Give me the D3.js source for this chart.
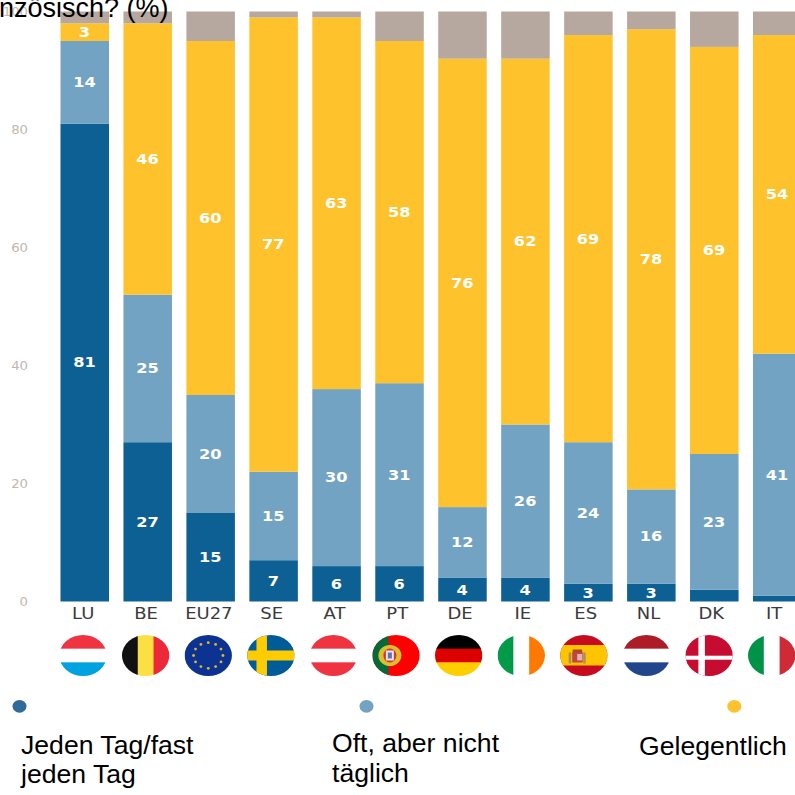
<!DOCTYPE html>
<html><head><meta charset="utf-8">
<script src="https://cdn.jsdelivr.net/npm/d3@7"></script>
<style>html,body{margin:0;padding:0;background:#fff;overflow:hidden}svg{display:block}</style>
</head><body><svg id="c" width="795" height="795"></svg>
<script>
const countries=["LU","BE","EU27","SE","AT","PT","DE","IE","ES","NL","DK","IT"];
const daily=[81,27,15,7,6,6,4,4,3,3,2,1];
const often=[14,25,20,15,30,31,12,26,24,16,23,41];
const sometimes=[3,46,60,77,63,58,76,62,69,78,69,54];
const never=[2,2,5,1,1,5,8,8,4,3,6,4];
const yTicks=[0,20,40,60,80,100];
const seriesNames=["daily","often","sometimes","never"];
const seriesColors=["#0d6093","#72a3c2","#fec22d","#b6a89f"];
const hiddenLabels=[2,1];
const titleText="nzösisch? (%)";
const legendLabels=[["Jeden Tag/fast","jeden Tag"],["Oft, aber nicht","täglich"],["Gelegentlich"]];
const flagStripes={
 LU:{d:"h",c:["#ef3340","#fff","#00a3e0"]},
 BE:{d:"v",c:["#111","#fae042","#ed2939"]},
 AT:{d:"h",c:["#ef3340","#fff","#ef3340"]},
 DE:{d:"h",c:["#000","#dd0000","#ffce00"]},
 IE:{d:"v",c:["#009a49","#fff","#ff7900"]},
 NL:{d:"h",c:["#ae1c28","#fff","#21468b"]},
 IT:{d:"v",c:["#009246","#fff","#ce2b37"]}
};
const svg=d3.select("#c");
const x=d3.scaleBand().domain(countries).range([54.2,807.8]).paddingInner(0.2295).paddingOuter(0.1);
const y=d3.scaleLinear().domain([0,100]).range([601.5,11.5]);
const stack=d3.stack().keys(seriesNames)(countries.map((c,i)=>({c,daily:daily[i],often:often[i],sometimes:sometimes[i],never:never[i]})));
const color=d3.scaleOrdinal(seriesNames,seriesColors);

const gy=svg.append("g").attr("transform","translate(28,0)").call(d3.axisLeft(y).tickValues(yTicks).tickSize(0));
gy.select(".domain").remove();
gy.selectAll("text").attr("fill","#c2b7b0").attr("font-family","DejaVu Sans").attr("font-size",11.5).attr("x",0).attr("dy","0.36em").attr("transform","scale(1.15,1)");

const gx=svg.append("g").attr("transform","translate(-1.5,0)").call(d3.axisBottom(x).tickSize(0));
gx.select(".domain").remove();
gx.selectAll(".tick").attr("transform",function(d,i){const t=+d3.select(this).attr("transform").match(/translate\(([^,]+)/)[1];return `translate(${t-0.15*i},618.7)`;});
gx.selectAll("text").attr("fill","#3a3a3a").attr("font-family","DejaVu Sans").attr("font-size",15).attr("y",0).attr("dy",0).attr("transform","scale(1.2,1)");

stack.forEach(s=>{
 const g=svg.append("g");
 g.selectAll("rect").data(s).join("rect")
  .attr("x",d=>x(d.data.c)).attr("width",x.bandwidth())
  .attr("y",d=>y(d[1])).attr("height",d=>y(d[0])-y(d[1])).attr("fill",color(s.key));
 if(s.key!=="never"){
  g.selectAll("text").data(s.filter(d=>!hiddenLabels.includes(d[1]-d[0]))).join("text")
   .attr("transform",d=>`translate(${x(d.data.c)+x.bandwidth()/2-0.3},${(y(d[0])+y(d[1]))/2}) scale(1.2,1)`)
   .attr("dy","0.36em")
   .attr("text-anchor","middle").attr("fill","#fff").attr("font-family","DejaVu Sans").attr("font-weight","bold").attr("font-size",13.5)
   .text(d=>d[1]-d[0]);
 }
});

const defs=svg.append("defs");
const rx=23.7, ry=20.5, fy=655.5;
countries.forEach((c,i)=>{
 const cx=x(c)+x.bandwidth()/2-1.7-0.35*i;
 defs.append("clipPath").attr("id","f"+i).append("ellipse").attr("cx",cx).attr("cy",fy).attr("rx",rx).attr("ry",ry);
 const g=svg.append("g").attr("clip-path",`url(#f${i})`);
 const X=cx-rx,Y=fy-ry,W=2*rx,H=2*ry;
 const R=(a,b,w,h,f)=>g.append("rect").attr("x",a).attr("y",b).attr("width",w).attr("height",h).attr("fill",f);
 const s=flagStripes[c];
 if(s){
  s.c.forEach((col,k)=>{ s.d==="h"?R(X,Y+k*H/3,W,H/3+.5,col):R(X+k*W/3,Y,W/3+.5,H,col); });
 } else if(c==="EU27"){
  R(X,Y,W,H,"#0c3391");
  d3.range(12).forEach(k=>{const a=k*Math.PI/6;
   g.append("circle").attr("cx",cx+14.7*Math.cos(a)).attr("cy",fy+12.8*Math.sin(a)).attr("r",1.4).attr("fill","#e0b92a");});
 } else if(c==="SE"){
  R(X,Y,W,H,"#005b99");R(X+9.3,Y,10.5,H,"#fecc00");R(X,fy-5,W,10,"#fecc00");
 } else if(c==="DK"){
  R(X,Y,W,H,"#c60c30");R(X+13,Y,6.5,H,"#fff");R(X,fy+0.2,W,4,"#fff");
 } else if(c==="PT"){
  R(X,Y,W,H,"#ff0000");R(X,Y,16,H,"#046a38");
  g.append("ellipse").attr("cx",X+17.5).attr("cy",fy).attr("rx",11.5).attr("ry",10.5).attr("fill","#d8c030");
  g.append("ellipse").attr("cx",X+17.5).attr("cy",fy).attr("rx",6.5).attr("ry",7).attr("fill","#e03030");
  R(X+13.5,fy-5,8,10,"#e8e8ee");
  R(X+15.5,fy-3,4,6,"#6070b0");
 } else if(c==="ES"){
  R(X,Y,W,H,"#c60b1e");R(X,fy-10.5,W,20.5,"#ffc400");
  R(X+8.5,fy-3,2.5,11,"#b08a60");R(X+23,fy-3,2.5,11,"#b08a60");
  R(X+12.5,fy-6,9.5,2.5,"#a84a2a");
  R(X+12,fy-3.5,10.5,10.5,"#c4463a");R(X+17,fy-1.5,5,6.5,"#dcb4c0");
 }
});

const legendX=[19.5,366.5,734.3], legendTextX=[21,332,639], legendBase=[[754,783],[752,782],[755]];
svg.append("g").selectAll("ellipse").data(legendX).join("ellipse")
 .attr("cx",d=>d).attr("cy",706.3).attr("rx",7).attr("ry",6.4).attr("fill",(d,i)=>i==0?"#2f6a99":seriesColors[i]);
legendLabels.forEach((lines,i)=>lines.forEach((t,k)=>{
 svg.append("text").attr("x",legendTextX[i]).attr("y",legendBase[i][k]).attr("font-family","Liberation Sans").attr("font-size",26.6).attr("fill","#000").text(t);
}));
svg.append("text").attr("x",-1).attr("y",17).attr("font-family","Liberation Sans").attr("font-size",27).attr("fill","#000").text(titleText);
</script></body></html>
